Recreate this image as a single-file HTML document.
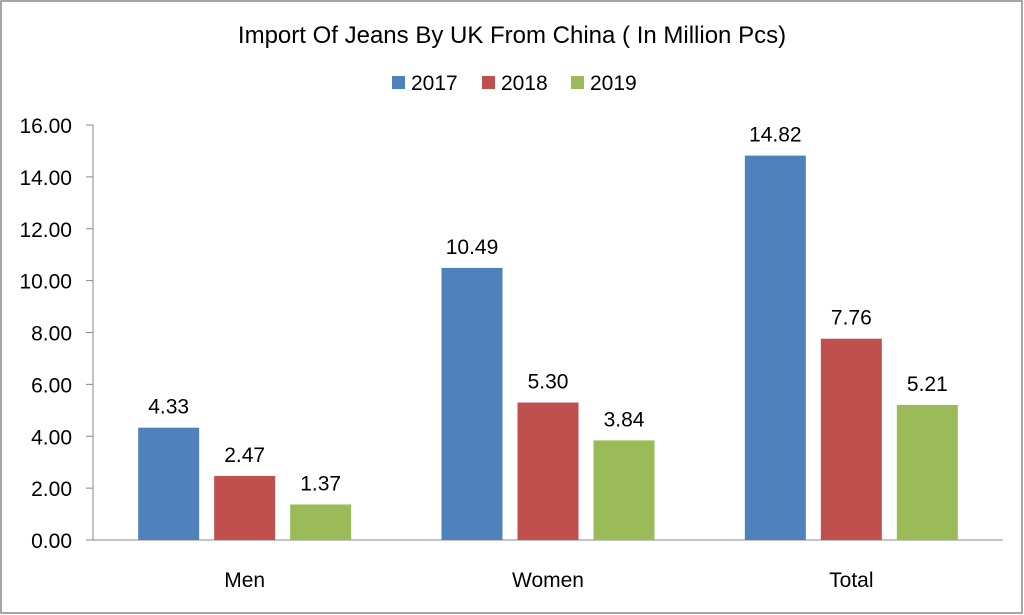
<!DOCTYPE html>
<html><head><meta charset="utf-8"><style>
html,body{margin:0;padding:0;background:#fff;}
svg{display:block;font-family:"Liberation Sans",sans-serif;}
</style></head><body>
<svg id="chart" width="1024" height="615" viewBox="0 0 1024 615">
<rect x="1" y="1" width="1021" height="612" fill="#fff" stroke="#888" stroke-width="1.5"/>
<text x="512" y="43" text-anchor="middle" font-size="24" fill="#000">Import Of Jeans By UK From China ( In Million Pcs)</text>
<g id="legend"></g>
<g id="axes"></g>
<g id="bars"></g>
</svg>
<script>
const categories = ["Men", "Women", "Total"];
const seriesNames = ["2017", "2018", "2019"];
const values2017 = [4.33, 10.49, 14.82];
const values2018 = [2.47, 5.30, 7.76];
const values2019 = [1.37, 3.84, 5.21];
const yTicks = [0, 2, 4, 6, 8, 10, 12, 14, 16];

const NS = "http://www.w3.org/2000/svg";
const colors = ["#4f81bd", "#c0504d", "#9bbb59"];
const series = [values2017, values2018, values2019];
const x0 = 93, x1 = 1003, yBase = 540, yTop = 125, yMax = 16;
const yScale = v => yBase - (v / yMax) * (yBase - yTop);
const groupW = (x1 - x0) / categories.length;
const xCenter = i => x0 + groupW * (i + 0.5);
const barW = 61, step = 76;

function mk(tag, attrs, parent, text) {
  const el = document.createElementNS(NS, tag);
  for (const k in attrs) el.setAttribute(k, attrs[k]);
  if (text !== undefined) el.textContent = text;
  parent.appendChild(el);
  return el;
}
const axes = document.getElementById("axes");
const bars = document.getElementById("bars");
const legend = document.getElementById("legend");

let l = mk("line", {x1: x0, y1: yTop, x2: x0, y2: yBase, stroke: "#888", "stroke-width": 1}, axes);


l = mk("line", {x1: x0 - 7, y1: yBase, x2: x1, y2: yBase, stroke: "#888", "stroke-width": 1}, axes);



yTicks.forEach(t => {
  const y = yScale(t);
  const tk = mk("line", {x1: x0 - 7, y1: y, x2: x0, y2: y, stroke: "#888", "stroke-width": 1}, axes);
  
  
  const tl = mk("text", {x: 72, y: y + 8, "text-anchor": "end", "font-size": 21, fill: "#000"}, axes, t.toFixed(2));
  
  
});

categories.forEach((c, i) => {
  const cl = mk("text", {x: xCenter(i), y: 587, "text-anchor": "middle", "font-size": 21, fill: "#000"}, axes, c);
  
  
  series.forEach((s, j) => {
    const cx = xCenter(i) + (j - 1) * step;
    const y = yScale(s[i]);
    const r = mk("rect", {x: cx - barW / 2, y: y, width: barW, height: yBase - y, fill: colors[j]}, bars);
    
    
    const vl = mk("text", {x: cx, y: y - 14, "text-anchor": "middle", "font-size": 21, fill: "#000"}, bars, s[i].toFixed(2));
    
    
  });
});

const legX = [392, 482, 571];
seriesNames.forEach((n, j) => {
  const sw = mk("rect", {x: legX[j], y: 76, width: 13, height: 13, fill: colors[j]}, legend);
  
  
  const lt = mk("text", {x: legX[j] + 19, y: 90, "font-size": 21, fill: "#000"}, legend, n);
  
  
});
</script>
</body></html>
